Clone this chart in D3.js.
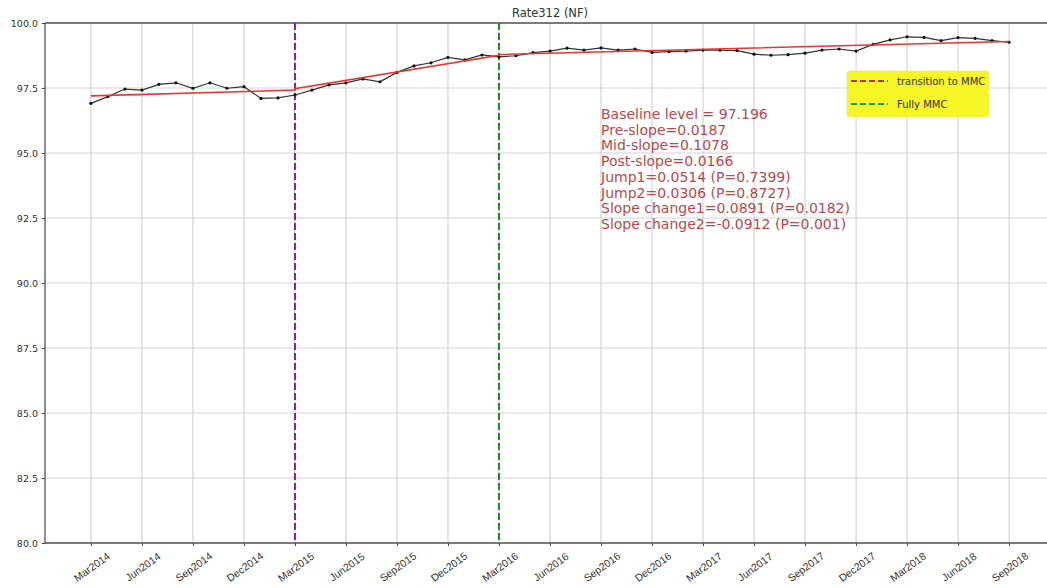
<!DOCTYPE html>
<html>
<head>
<meta charset="utf-8">
<script src="https://cdn.jsdelivr.net/npm/d3@7"></script>
<style>
  body { margin: 0; background: #fff; }
  svg { display: block; font-family: "DejaVu Sans", sans-serif; }
</style>
</head>
<body>
<svg id="chart" width="1047" height="588"></svg>
<script>
// Monthly values, Mar2014 .. Sep2018 (index 0 .. 54)
const rateValues = [
  96.91, 97.17, 97.46, 97.42, 97.64, 97.70, 97.49, 97.70, 97.49, 97.55,
  97.10, 97.12, 97.23, 97.42, 97.62, 97.70, 97.85, 97.74, 98.10, 98.35,
  98.47, 98.68, 98.58, 98.77, 98.70, 98.74, 98.86, 98.92, 99.03, 98.96,
  99.04, 98.96, 99.00, 98.87, 98.90, 98.92, 98.96, 98.96, 98.94, 98.80,
  98.76, 98.78, 98.84, 98.96, 99.00, 98.92, 99.18, 99.35, 99.47, 99.45,
  99.32, 99.44, 99.41, 99.32, 99.26
];

// Segmented regression line vertices [month index, value]
const fitLine = [
  [0, 97.196], [12, 97.42], [12, 97.47], [24, 98.76], [24, 98.79], [54, 99.29]
];

const tickMonths = [0, 3, 6, 9, 12, 15, 18, 21, 24, 27, 30, 33, 36, 39, 42, 45, 48, 51, 54];
const tickLabels = [
  "Mar2014", "Jun2014", "Sep2014", "Dec2014", "Mar2015", "Jun2015", "Sep2015",
  "Dec2015", "Mar2016", "Jun2016", "Sep2016", "Dec2016", "Mar2017", "Jun2017",
  "Sep2017", "Dec2017", "Mar2018", "Jun2018", "Sep2018"
];
const yTicks = [80, 82.5, 85, 87.5, 90, 92.5, 95, 97.5, 100];

const transitionMonth = 12;   // Mar2015
const fullyMonth = 24;        // Mar2016

const statLines = [
  "Baseline level = 97.196",
  "Pre-slope=0.0187",
  "Mid-slope=0.1078",
  "Post-slope=0.0166",
  "Jump1=0.0514 (P=0.7399)",
  "Jump2=0.0306 (P=0.8727)",
  "Slope change1=0.0891 (P=0.0182)",
  "Slope change2=-0.0912 (P=0.001)"
];

const legendItems = [
  { label: "transition to MMC", color: "#b23a3a" },
  { label: "Fully MMC", color: "#1f9a1f" }
];

// Layout
const marginLeft = 45;
const plotRight = 1055;   // right spine sits just outside the picture
const marginTop = 23;
const plotBottom = 543;

const x = d3.scaleLinear()
  .domain([-2.7, 56.7])
  .range([marginLeft, plotRight]);

const y = d3.scaleLinear()
  .domain([80, 100])
  .range([plotBottom, marginTop]);

const svg = d3.select("#chart");

// grid
const gridColor = "#d4d4d4";
svg.append("g")
  .selectAll("line")
  .data(tickMonths)
  .join("line")
  .attr("x1", d => x(d)).attr("x2", d => x(d))
  .attr("y1", marginTop).attr("y2", plotBottom)
  .attr("stroke", gridColor)
  .attr("stroke-width", 1.2);

svg.append("g")
  .selectAll("line")
  .data(yTicks)
  .join("line")
  .attr("x1", marginLeft).attr("x2", plotRight)
  .attr("y1", d => y(d)).attr("y2", d => y(d))
  .attr("stroke", gridColor)
  .attr("stroke-width", 1.2);

// axes
const yAxis = svg.append("g")
  .attr("transform", `translate(${marginLeft},0)`)
  .call(d3.axisLeft(y).tickValues(yTicks).tickFormat(d3.format(".1f")).tickSize(3).tickPadding(4));

const xAxis = svg.append("g")
  .attr("transform", `translate(0,${plotBottom})`)
  .call(d3.axisBottom(x).tickValues(tickMonths).tickFormat("").tickSize(3));

[yAxis, xAxis].forEach(g => {
  g.select(".domain").remove();
  g.selectAll("line").attr("stroke", "#444");
  g.selectAll("text")
    .attr("fill", "#333")
    .style("font-size", "9.5px")
    .style("font-family", "'DejaVu Sans', sans-serif");
});

xAxis.selectAll("text.xlab")
  .data(tickMonths)
  .join("text")
  .attr("class", "xlab")
  .attr("transform", (d) => `translate(${x(d) + 1},${567 - plotBottom}) rotate(-36)`)
  .attr("text-anchor", "middle")
  .attr("dy", "0.35em")
  .attr("fill", "#333")
  .style("font-size", "10.5px")
  .text((d, i) => tickLabels[i]);

// spines
const spineColor = "#555";
svg.append("line")
  .attr("x1", marginLeft).attr("x2", marginLeft)
  .attr("y1", marginTop).attr("y2", plotBottom)
  .attr("stroke", spineColor).attr("stroke-width", 1.3);
svg.append("line")
  .attr("x1", marginLeft).attr("x2", plotRight)
  .attr("y1", plotBottom).attr("y2", plotBottom)
  .attr("stroke", spineColor).attr("stroke-width", 1.3);
svg.append("line")
  .attr("x1", marginLeft).attr("x2", plotRight)
  .attr("y1", marginTop).attr("y2", marginTop)
  .attr("stroke", spineColor).attr("stroke-width", 1.3);

// intervention lines
svg.append("line")
  .attr("x1", x(transitionMonth)).attr("x2", x(transitionMonth))
  .attr("y1", marginTop).attr("y2", plotBottom)
  .attr("stroke", "#8a1a9a")
  .attr("stroke-width", 2)
  .attr("stroke-dasharray", "7,3");

svg.append("line")
  .attr("x1", x(fullyMonth)).attr("x2", x(fullyMonth))
  .attr("y1", marginTop).attr("y2", plotBottom)
  .attr("stroke", "#1f8a1f")
  .attr("stroke-width", 2)
  .attr("stroke-dasharray", "7,3");

// data series
const line = d3.line()
  .x((d, i) => x(i))
  .y(d => y(d));

svg.append("path")
  .datum(rateValues)
  .attr("fill", "none")
  .attr("stroke", "#333")
  .attr("stroke-width", 1.2)
  .attr("d", line);

svg.append("g")
  .selectAll("circle")
  .data(rateValues)
  .join("circle")
  .attr("cx", (d, i) => x(i))
  .attr("cy", d => y(d))
  .attr("r", 1.6)
  .attr("fill", "#111");

// fitted line
svg.append("path")
  .datum(fitLine)
  .attr("fill", "none")
  .attr("stroke", "#e8342e")
  .attr("stroke-width", 1.6)
  .attr("d", d3.line().x(d => x(d[0])).y(d => y(d[1])));

// title
svg.append("text")
  .attr("x", (marginLeft + plotRight) / 2)
  .attr("y", 17)
  .attr("text-anchor", "middle")
  .attr("fill", "#333")
  .style("font-size", "11.5px")
  .text("Rate312 (NF)");

// stats text
svg.append("g")
  .selectAll("text")
  .data(statLines)
  .join("text")
  .attr("x", 601)
  .attr("y", (d, i) => 119 + i * 15.7)
  .attr("fill", "#b54a4e")
  .style("font-size", "14px")
  .text(d => d);

// legend
const legend = svg.append("g").attr("transform", "translate(847,71)");
legend.append("rect")
  .attr("width", 142).attr("height", 46)
  .attr("rx", 2)
  .attr("fill", "#f6f526")
  .attr("stroke", "#e6e6a0")
  .attr("stroke-width", 0.8);

legend.selectAll("g.item")
  .data(legendItems)
  .join("g")
  .attr("class", "item")
  .attr("transform", (d, i) => `translate(0,${10 + i * 23})`)
  .each(function (d) {
    const g = d3.select(this);
    g.append("line")
      .attr("x1", 4).attr("x2", 41)
      .attr("stroke", d.color)
      .attr("stroke-width", 2)
      .attr("stroke-dasharray", "6,3");
    g.append("text")
      .attr("x", 50)
      .attr("dy", "0.35em")
      .attr("fill", "#333")
      .style("font-size", "10px")
      .text(d.label);
  });
</script>
</body>
</html>
